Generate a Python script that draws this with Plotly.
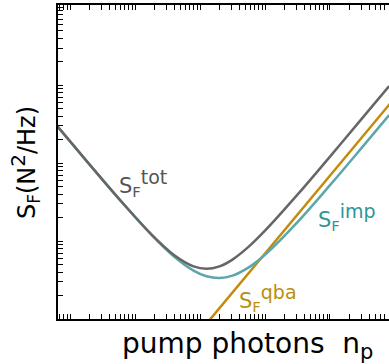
import plotly.graph_objects as go

# pump photon number (arbitrary units, log scale)
n_p = [0.5623, 1.778, 5.623, 17.78, 39.81, 79.43, 125.9, 199.5, 316.2, 562.3,
       1000, 3162, 10000, 31623, 81283]
# total force noise
S_tot = [337.9, 107.8, 35.12, 12.25, 6.63, 4.735, 4.413, 4.743, 5.79, 8.48,
         13.59, 39.4, 121.4, 380.8, 976.8]
# imprecision noise
S_imp = [337.9, 107.8, 35.08, 12.13, 6.355, 4.186, 3.542, 3.362, 3.604, 4.593,
         6.67, 17.52, 52.2, 162.0, 414.3]
# quantum back-action noise
n_qba = [100, 100000]
S_qba = [0.692, 692]

C_TOT = "#666666"
C_IMP = "#5ba7aa"
C_QBA = "#c48a0c"
FONT = "DejaVu Sans"

fig = go.Figure()
fig.add_trace(go.Scatter(x=n_qba, y=S_qba, mode="lines",
                         line=dict(color=C_QBA, width=2.5), showlegend=False))
fig.add_trace(go.Scatter(x=n_p, y=S_imp, mode="lines",
                         line=dict(color=C_IMP, width=2.5, shape="spline"),
                         showlegend=False))
fig.add_trace(go.Scatter(x=n_p, y=S_tot, mode="lines",
                         line=dict(color=C_TOT, width=2.5, shape="spline"),
                         showlegend=False))

minor = dict(ticks="inside", ticklen=5, tickwidth=1.3, tickcolor="black",
             showgrid=False)
fig.update_xaxes(type="log", range=[-0.185, 4.908], dtick=1,
                 showticklabels=False, ticks="inside", ticklen=5, tickwidth=1.3,
                 tickcolor="black", showline=True, linecolor="black",
                 linewidth=2, mirror="allticks", showgrid=False, zeroline=False,
                 minor=minor)
fig.update_yaxes(type="log", range=[0, 4.03], dtick=1,
                 showticklabels=False, ticks="inside", ticklen=5, tickwidth=1.3,
                 tickcolor="black", showline=True, linecolor="black",
                 linewidth=2, mirror=False, showgrid=False, zeroline=False,
                 minor=minor)

def lab(sup, x, y, color, size=21, supsize=19):
    text = ("S<sub>F</sub><sup><span style='font-size:%dpx'>%s</span></sup>"
            % (supsize, sup))
    fig.add_annotation(text=text, xref="paper", yref="paper", x=x, y=y,
                       xanchor="left", yanchor="middle", showarrow=False,
                       font=dict(family=FONT, size=size, color=color))

lab("tot", 0.178, 0.433, "#555555")
lab("imp", 0.778, 0.325, "#2e9696")
lab("qba", 0.541, 0.067, "#b8900c")

fig.add_annotation(
    text="pump photons&nbsp; n<sub><span style='font-size:21px'>p</span></sub>",
    xref="paper", yref="paper", x=0.571, y=-0.083, xanchor="center",
    yanchor="middle", showarrow=False,
    font=dict(family=FONT, size=28, color="black"))
fig.add_annotation(text="S<sub>F</sub>(N<sup><span style='font-size:20px'>2</span></sup>/Hz)",
                   xref="paper", yref="paper", x=-0.0997, y=0.5,
                   xanchor="center", yanchor="middle", textangle=-90,
                   showarrow=False,
                   font=dict(family=FONT, size=24, color="black"))

fig.update_layout(width=389, height=364,
                  margin=dict(l=58, r=0, t=5, b=45),
                  plot_bgcolor="white", paper_bgcolor="white")
fig.write_html("out.html")
